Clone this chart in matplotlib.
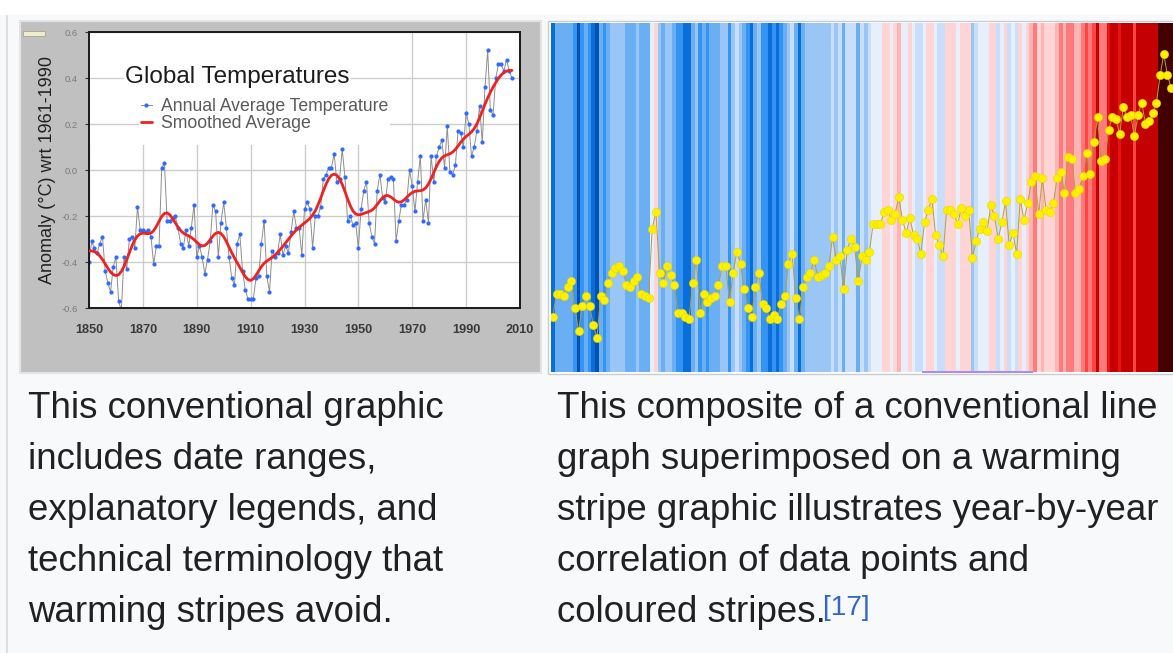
import numpy as np
import matplotlib
matplotlib.use("Agg")
import matplotlib.pyplot as plt
from matplotlib.colors import ListedColormap, BoundaryNorm
from matplotlib.patches import Rectangle
from matplotlib.lines import Line2D

# ---------------- data ----------------
years_left = np.arange(1850, 2008)
annual_left = [
    -0.40, -0.31, -0.34, -0.36, -0.32, -0.29, -0.44, -0.49, -0.53, -0.42,   # 1850s
    -0.38, -0.57, -0.61, -0.38, -0.43, -0.30, -0.29, -0.34, -0.16, -0.26,   # 1860s
    -0.26, -0.27, -0.26, -0.29, -0.41, -0.33, -0.33, 0.01, 0.03, -0.22,     # 1870s
    -0.22, -0.21, -0.20, -0.25, -0.32, -0.34, -0.26, -0.33, -0.25, -0.15,   # 1880s
    -0.38, -0.33, -0.38, -0.45, -0.39, -0.31, -0.15, -0.18, -0.38, -0.23,   # 1890s
    -0.14, -0.25, -0.38, -0.47, -0.50, -0.32, -0.28, -0.44, -0.52, -0.56,   # 1900s
    -0.56, -0.56, -0.47, -0.46, -0.32, -0.22, -0.46, -0.53, -0.35, -0.38,   # 1910s
    -0.36, -0.28, -0.37, -0.33, -0.36, -0.27, -0.18, -0.25, -0.25, -0.37,   # 1920s
    -0.17, -0.14, -0.17, -0.34, -0.20, -0.20, -0.16, -0.04, -0.02, 0.01,    # 1930s
    0.01, 0.07, -0.05, -0.04, 0.09, -0.03, -0.22, -0.20, -0.24, -0.23,      # 1940s
    -0.34, -0.17, -0.09, -0.05, -0.23, -0.29, -0.32, -0.09, -0.02, -0.12,   # 1950s
    -0.14, -0.04, -0.03, -0.04, -0.31, -0.22, -0.15, -0.15, -0.13, 0.00,    # 1960s
    -0.07, -0.18, -0.05, 0.06, -0.22, -0.13, -0.23, 0.06, -0.05, 0.06,      # 1970s
    0.10, 0.13, 0.01, 0.19, -0.01, -0.02, 0.02, 0.17, 0.16, 0.10,           # 1980s
    0.25, 0.20, 0.06, 0.10, 0.17, 0.28, 0.12, 0.36, 0.52, 0.26,             # 1990s
    0.24, 0.40, 0.46, 0.46, 0.43, 0.48, 0.43, 0.40,                         # 2000-2007
]

years_right = np.arange(1850, 2019)
annual_right = [
    -0.47, -0.36, -0.36, -0.37, -0.33, -0.30, -0.43, -0.54, -0.42, -0.37,   # 1850s
    -0.42, -0.51, -0.57, -0.37, -0.39, -0.31, -0.26, -0.24, -0.23, -0.25,   # 1860s
    -0.32, -0.33, -0.30, -0.28, -0.36, -0.37, -0.38, -0.05, 0.03, -0.26,    # 1870s
    -0.31, -0.23, -0.27, -0.32, -0.45, -0.45, -0.47, -0.48, -0.31, -0.20,   # 1880s
    -0.45, -0.36, -0.40, -0.38, -0.37, -0.32, -0.23, -0.23, -0.40, -0.26,   # 1890s
    -0.16, -0.22, -0.34, -0.43, -0.47, -0.33, -0.26, -0.41, -0.43, -0.48,   # 1900s
    -0.46, -0.48, -0.41, -0.37, -0.22, -0.17, -0.38, -0.48, -0.33, -0.28,   # 1910s
    -0.26, -0.20, -0.28, -0.27, -0.26, -0.23, -0.09, -0.20, -0.18, -0.34,   # 1920s
    -0.15, -0.10, -0.14, -0.30, -0.18, -0.20, -0.16, -0.03, -0.03, -0.03,   # 1930s
    0.03, 0.04, -0.01, 0.02, 0.10, -0.01, -0.07, 0.00, -0.08, -0.10,        # 1940s
    -0.17, -0.02, 0.04, 0.09, -0.08, -0.13, -0.18, 0.04, 0.04, 0.02,        # 1950s
    -0.03, 0.05, 0.01, 0.04, -0.19, -0.11, -0.05, -0.02, -0.06, 0.06,       # 1960s
    0.01, -0.10, -0.02, 0.08, -0.13, -0.07, -0.17, 0.09, -0.01, 0.07,       # 1970s
    0.17, 0.20, 0.02, 0.19, 0.04, 0.03, 0.07, 0.19, 0.22, 0.12,             # 1980s
    0.29, 0.28, 0.12, 0.14, 0.20, 0.31, 0.21, 0.36, 0.48, 0.27,             # 1990s
    0.28, 0.42, 0.48, 0.47, 0.40, 0.53, 0.48, 0.49, 0.39, 0.49,             # 2000s
    0.55, 0.45, 0.46, 0.50, 0.55, 0.68, 0.78, 0.68, 0.62,                   # 2010-2018
]

x_ticks = [1850, 1870, 1890, 1910, 1930, 1950, 1970, 1990, 2010]
y_ticks = [-0.6, -0.4, -0.2, 0.0, 0.2, 0.4, 0.6]
y_tick_labels = ["-0.6", "-0.4", "-0.2", "0.0", "0.2", "0.4", "0.6"]

stripe_bounds = [-1.0, -0.53, -0.46, -0.38, -0.28, -0.18, -0.08, 0.0,
                 0.1, 0.2, 0.3, 0.4, 0.45, 0.6, 1.0]
stripe_colors = ["#0052b0", "#0a6ed8", "#3394f4", "#6aaef4", "#9ac6f6",
                 "#c8defa", "#e6effb", "#ffd4d4", "#ffb4b4", "#ff7a7a",
                 "#ff4444", "#ee1111", "#c40000", "#420000"]

left_caption = ["This conventional graphic", "includes date ranges,",
                "explanatory legends, and", "technical terminology that",
                "warming stripes avoid."]
right_caption = ["This composite of a conventional line",
                 "graph superimposed on a warming",
                 "stripe graphic illustrates year-by-year",
                 "correlation of data points and",
                 "coloured stripes."]

# ---------------- helpers ----------------
W, H = 1173, 653
DPI = 100


def rect(x0, y0, x1, y1):
    return [x0 / W, 1 - y1 / H, (x1 - x0) / W, (y1 - y0) / H]


def fx(x):
    return x / W


def fy(y):
    return 1 - y / H


def pt(px):
    return px * 72.0 / DPI


def smooth(vals, sigma=2.8, half=10):
    v = np.asarray(vals, dtype=float)
    out = np.empty_like(v)
    k = np.arange(-half, half + 1)
    w = np.exp(-0.5 * (k / sigma) ** 2)
    for i in range(len(v)):
        idx = i + k
        ok = (idx >= 0) & (idx < len(v))
        out[i] = np.sum(v[idx[ok]] * w[ok]) / np.sum(w[ok])
    return out


plt.rcParams["font.family"] = ["Liberation Sans", "DejaVu Sans"]

fig = plt.figure(figsize=(W / DPI, H / DPI), dpi=DPI, facecolor="#f8f9fa")

# page decorations
fig.add_artist(Rectangle((0, fy(15)), 1, 15 / H, transform=fig.transFigure,
                         facecolor="white", edgecolor="none", zorder=0))
fig.add_artist(Line2D([fx(7), fx(7)], [0, fy(16)], transform=fig.transFigure,
                      color="#d5d8dc", lw=1.2, zorder=1))

# ---------------- left panel ----------------
fig.add_artist(Rectangle((fx(20), fy(373)), 521 / W, 352 / H,
                         transform=fig.transFigure, facecolor="#c0c0c0",
                         edgecolor="#e4e4e4", lw=1.5, zorder=1))
fig.add_artist(Rectangle((fx(23), fy(36)), 22 / W, 5 / H,
                         transform=fig.transFigure, facecolor="#efeccc",
                         edgecolor="#a8a48c", lw=0.6, zorder=2))

ax1 = fig.add_axes(rect(89, 32, 520, 308))
ax1.set_zorder(3)
ax1.set_facecolor("white")
ax1.set_xlim(1850, 2010)
ax1.set_ylim(-0.6, 0.6)
ax1.set_axisbelow(True)
ax1.xaxis.grid(True, color="#cdcdcd", lw=1.0)
ax1.yaxis.grid(True, color="#cdcdcd", lw=1.0)
ax1.yaxis.set_zorder(1.6)
ax1.set_xticks(x_ticks)
ax1.set_xticklabels([str(t) for t in x_ticks], fontsize=pt(12.8),
                    fontweight="bold", color="#3a3a3a")
ax1.set_yticks(y_ticks)
ax1.set_yticklabels(y_tick_labels, fontsize=pt(9.5), color="#7a7a7a")
ax1.tick_params(axis="x", length=0, pad=pt(16))
ax1.tick_params(axis="y", length=pt(4), width=0.8, color="#333333", pad=pt(7))
for s in ax1.spines.values():
    s.set_linewidth(1.4)
    s.set_color("#1a1a1a")

# white box behind the legend area (hides vertical grid lines there)
ax1.add_patch(Rectangle((0, 0.59), 0.733, 0.41, transform=ax1.transAxes,
                        facecolor="white", edgecolor="none", zorder=1.0))

ax1.plot(years_left, annual_left, color="#8e8e8e", lw=0.7, zorder=2,
         marker="o", ms=pt(4.2), mfc="#2f6bff", mec="#2f6bff", mew=0,
         label="Annual Average Temperature")
ax1.plot(years_left, smooth(annual_left), color="#ee2222", lw=pt(2.8),
         zorder=3, label="Smoothed Average", solid_capstyle="round")

ax1.text(fx(125), fy(77), "Global Temperatures", transform=fig.transFigure,
         fontsize=pt(24.3), color="#1c1c1c", ha="left", va="center",
         zorder=5, bbox=dict(facecolor="white", edgecolor="none", pad=1))
leg = ax1.legend(loc="upper left", bbox_to_anchor=(fx(139), fy(96)),
                 bbox_transform=fig.transFigure, frameon=True,
                 facecolor="white", edgecolor="none", framealpha=1,
                 fancybox=False, fontsize=pt(17.6), labelcolor="#5a5a5a",
                 handlelength=0.62, handletextpad=0.55, borderpad=0.1,
                 borderaxespad=0, labelspacing=0.0, numpoints=1)
leg.set_zorder(5)

fig.text(fx(48), fy(170), "Anomaly (\u00b0C) wrt 1961-1990", rotation=90,
         ha="center", va="center", fontsize=pt(18), color="#222222", zorder=4)

# ---------------- right panel ----------------
fig.add_artist(Rectangle((fx(548), fy(374)), 640 / W, 353 / H,
                         transform=fig.transFigure, facecolor="white",
                         edgecolor="#c8ccd1", lw=1.0, zorder=1))

ax2 = fig.add_axes(rect(551, 23, 1173, 372))
ax2.set_zorder(3)
ylo, yhi = -0.733, 0.929
ax2.set_xlim(years_right[0] - 0.5, years_right[-1] + 0.5)
ax2.set_ylim(ylo, yhi)
cmap = ListedColormap(stripe_colors)
norm = BoundaryNorm(stripe_bounds, cmap.N)
edges = np.append(years_right - 0.5, years_right[-1] + 0.5)
ax2.pcolormesh(edges, [ylo, yhi], np.array(annual_right)[None, :],
               cmap=cmap, norm=norm, shading="flat", zorder=1)
ax2.plot(years_right, annual_right, color="#b0a040", lw=0.7, zorder=2)
ax2.plot(years_right, annual_right, ls="none", marker="o", ms=pt(8.2),
         mfc="#fff000", mec="#e8d800", mew=0.4, zorder=3)
ax2.axis("off")

fig.add_artist(Line2D([fx(923), fx(1032)], [fy(371.5), fy(371.5)],
                      transform=fig.transFigure, color="#a98cf0", lw=pt(2),
                      zorder=5))

# ---------------- captions ----------------
baselines = [418, 469, 520, 571, 622]
for line, b in zip(left_caption, baselines):
    fig.text(fx(28), fy(b), line, ha="left", va="baseline",
             fontsize=pt(36.6), color="#202122")
for line, b in zip(right_caption, baselines):
    fig.text(fx(557), fy(b), line, ha="left", va="baseline",
             fontsize=pt(36.6), color="#202122")
fig.text(fx(823), fy(615), "[17]", ha="left", va="baseline",
         fontsize=pt(28), color="#3366cc")

fig.savefig("out.png", dpi=DPI, facecolor=fig.get_facecolor())
